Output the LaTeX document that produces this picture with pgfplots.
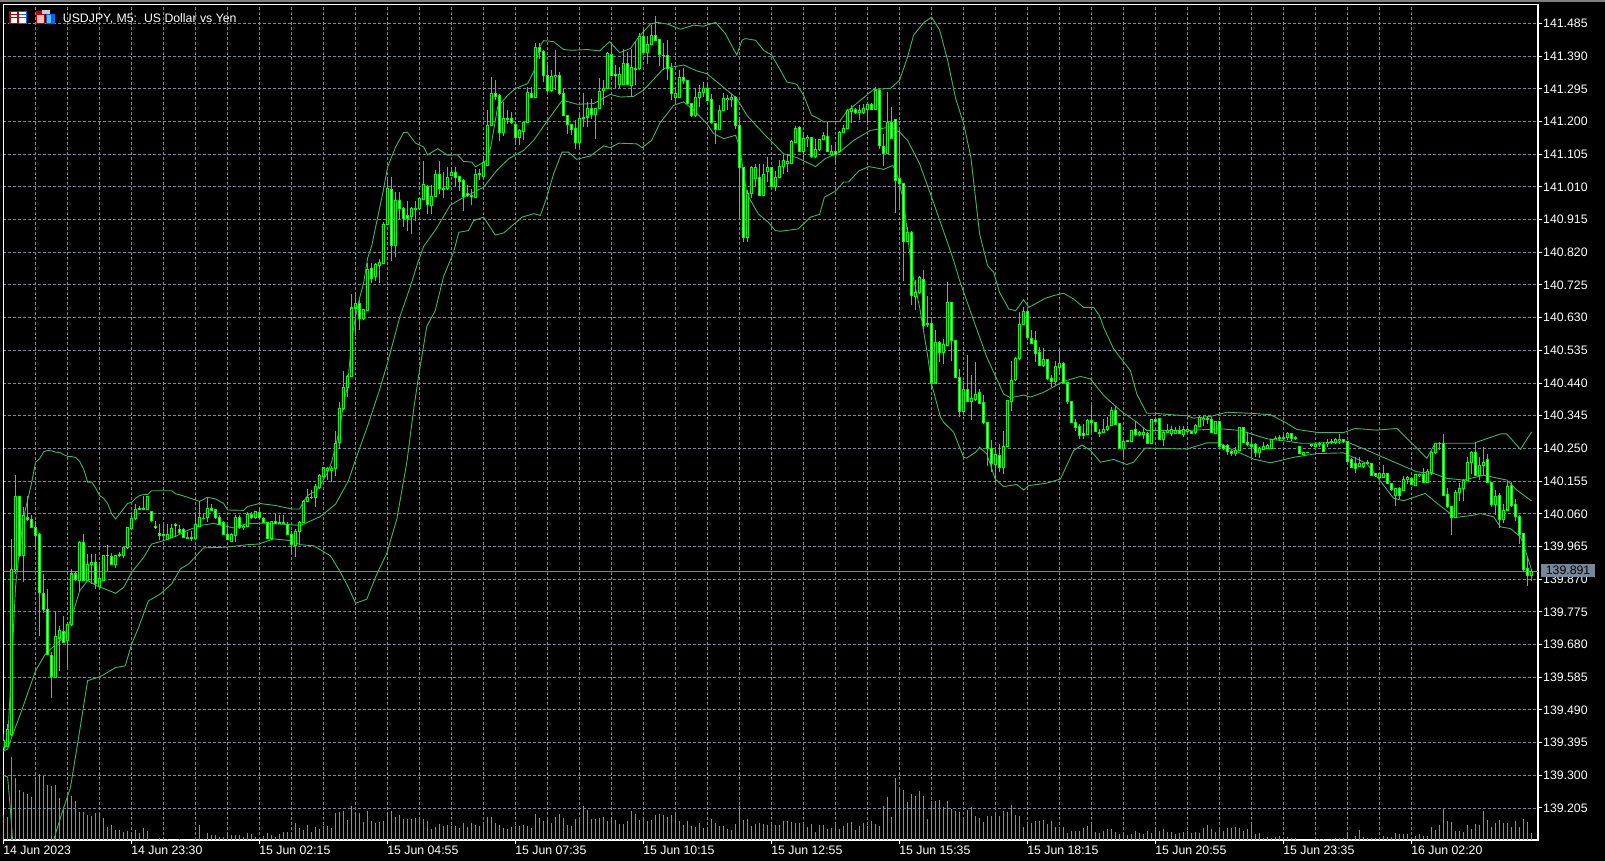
\documentclass[border=0pt]{standalone}
\usepackage{fontspec}
\setmainfont{Liberation Sans}
\usepackage{pgfplots}
\usepackage{pgfplotstable}
\pgfplotsset{compat=1.18, filter discard warning=false}
\definecolor{gridc}{HTML}{778899}
\definecolor{bbc}{HTML}{3CB371}
\definecolor{volc}{HTML}{32CD32}
\definecolor{candle}{HTML}{00FF00}
\newcommand{\lab}{\fontsize{12.3}{14}\selectfont}
\pgfplotstableread{
i o h l c
0 139.381 139.419 139.376 139.400
1 139.383 139.450 139.381 139.434
2 139.419 139.987 139.415 139.897
3 139.897 140.173 139.885 140.110
4 140.110 140.113 139.934 139.938
5 139.938 140.079 139.861 140.055
6 140.050 140.113 140.040 140.042
7 140.042 140.055 140.019 140.021
8 140.021 140.040 139.965 139.996
9 140.001 140.003 139.706 139.832
10 139.827 139.885 139.773 139.783
11 139.783 139.841 139.652 139.652
12 139.649 139.657 139.526 139.587
13 139.584 139.778 139.582 139.704
14 139.699 139.735 139.604 139.720
15 139.718 139.764 139.685 139.686
16 139.691 139.744 139.613 139.739
17 139.738 139.900 139.735 139.885
18 139.885 139.895 139.866 139.868
19 139.866 139.982 139.832 139.977
20 139.977 140.001 139.864 139.866
21 139.866 139.943 139.864 139.914
22 139.914 139.943 139.856 139.918
23 139.917 139.943 139.841 139.856
24 139.849 139.914 139.846 139.873
25 139.866 139.940 139.864 139.940
26 139.938 139.970 139.895 139.940
27 139.936 139.945 139.912 139.914
28 139.912 139.941 139.902 139.938
29 139.938 139.948 139.934 139.941
30 139.938 139.963 139.932 139.961
31 139.961 140.021 139.958 140.019
32 140.018 140.062 140.016 140.045
33 140.045 140.089 140.042 140.072
34 140.073 140.084 140.071 140.075
35 140.073 140.113 140.071 140.074
36 140.072 140.113 140.071 140.111
37 140.067 140.069 140.037 140.040
38 140.023 140.040 140.016 140.019
39 140.002 140.031 139.984 139.998
40 140.000 140.026 139.982 139.998
41 139.986 140.031 139.984 140.001
42 139.992 140.031 139.990 140.016
43 140.029 140.032 139.992 140.025
44 140.013 140.026 140.001 140.005
45 140.013 140.019 139.989 139.990
46 139.990 140.006 139.987 139.989
47 139.990 140.011 139.980 139.987
48 139.987 140.055 139.984 140.028
49 140.023 140.098 140.021 140.048
50 140.045 140.058 140.044 140.047
51 140.048 140.106 140.037 140.074
52 140.075 140.089 140.067 140.071
53 140.071 140.073 140.046 140.048
54 140.048 140.055 140.029 140.030
55 140.035 140.040 139.999 140.001
56 140.001 140.026 139.984 139.986
57 139.979 140.003 139.977 140.001
58 139.997 140.055 139.977 140.048
59 140.048 140.055 140.017 140.019
60 140.019 140.026 140.013 140.024
61 140.023 140.064 140.021 140.058
62 140.058 140.064 140.045 140.048
63 140.048 140.069 140.044 140.066
64 140.065 140.081 140.044 140.048
65 140.047 140.050 140.032 140.035
66 140.035 140.035 139.987 139.989
67 139.987 140.040 139.985 140.038
68 140.038 140.058 140.031 140.032
69 140.035 140.055 140.029 140.033
70 140.033 140.055 140.029 140.035
71 140.029 140.035 139.997 139.999
72 140.001 140.009 139.948 139.970
73 139.967 140.016 139.935 140.009
74 140.009 140.040 139.972 140.035
75 140.035 140.100 140.032 140.096
76 140.096 140.132 140.095 140.106
77 140.106 140.128 140.103 140.108
78 140.106 140.147 140.081 140.139
79 140.137 140.176 140.132 140.171
80 140.168 140.197 140.166 140.193
81 140.186 140.195 140.157 140.191
82 140.186 140.200 140.152 140.191
83 140.191 140.302 140.170 140.265
84 140.267 140.386 140.249 140.365
85 140.365 140.476 140.363 140.426
86 140.426 140.462 140.399 140.460
87 140.460 140.699 140.458 140.658
88 140.658 140.704 140.576 140.672
89 140.672 140.680 140.595 140.627
90 140.627 140.655 140.624 140.653
91 140.651 140.788 140.649 140.771
92 140.774 140.788 140.730 140.743
93 140.750 140.788 140.735 140.784
94 140.782 140.800 140.730 140.791
95 140.788 140.907 140.786 140.900
96 140.900 141.038 140.898 141.004
97 141.001 141.038 140.796 140.839
98 140.839 140.995 140.805 140.970
99 140.970 140.995 140.917 140.946
100 140.946 140.951 140.893 140.919
101 140.927 140.970 140.883 140.919
102 140.925 140.951 140.873 140.946
103 140.943 140.970 140.912 140.946
104 140.946 140.980 140.943 140.975
105 140.973 141.084 140.973 141.016
106 141.012 141.014 140.932 140.958
107 140.956 141.014 140.932 140.983
108 140.983 141.058 140.983 141.045
109 141.045 141.084 140.990 141.004
110 141.003 141.053 140.978 141.004
111 141.004 141.069 141.002 141.038
112 141.043 141.067 141.041 141.053
113 141.053 141.067 141.009 141.036
114 141.041 141.041 140.999 141.026
115 141.029 141.034 140.941 140.983
116 140.990 141.014 140.980 140.984
117 140.986 141.004 140.956 140.981
118 140.980 141.063 140.978 141.045
119 141.046 141.063 141.029 141.048
120 141.041 141.101 141.040 141.080
121 141.072 141.233 141.072 141.189
122 141.189 141.328 141.186 141.281
123 141.281 141.320 141.262 141.273
124 141.276 141.279 141.142 141.169
125 141.169 141.257 141.157 141.208
126 141.206 141.233 141.194 141.208
127 141.208 141.228 141.194 141.196
128 141.192 141.199 141.140 141.153
129 141.153 141.179 141.131 141.174
130 141.172 141.199 141.145 141.197
131 141.197 141.299 141.196 141.284
132 141.281 141.299 141.268 141.269
133 141.269 141.429 141.267 141.415
134 141.414 141.429 141.383 141.402
135 141.402 141.407 141.315 141.333
136 141.333 141.364 141.286 141.289
137 141.289 141.349 141.286 141.332
138 141.330 141.407 141.291 141.334
139 141.333 141.344 141.276 141.281
140 141.281 141.296 141.216 141.218
141 141.216 141.218 141.165 141.191
142 141.191 141.192 141.160 141.177
143 141.179 141.203 141.121 141.138
144 141.140 141.225 141.124 141.208
145 141.210 141.283 141.184 141.212
146 141.213 141.257 141.184 141.237
147 141.237 141.264 141.208 141.221
148 141.221 141.240 141.150 141.239
149 141.239 141.327 141.237 141.286
150 141.291 141.320 141.247 141.296
151 141.296 141.403 141.293 141.398
152 141.396 141.427 141.335 141.335
153 141.337 141.364 141.296 141.333
154 141.308 141.359 141.296 141.337
155 141.308 141.412 141.306 141.368
156 141.368 141.402 141.306 141.308
157 141.305 141.412 141.271 141.357
158 141.352 141.432 141.305 141.354
159 141.353 141.456 141.351 141.446
160 141.448 141.470 141.398 141.400
161 141.400 141.448 141.368 141.424
162 141.424 141.480 141.422 141.451
163 141.451 141.506 141.434 141.436
164 141.438 141.441 141.361 141.395
165 141.392 141.427 141.351 141.391
166 141.391 141.436 141.320 141.354
167 141.354 141.369 141.262 141.281
168 141.269 141.301 141.257 141.281
169 141.269 141.351 141.267 141.327
170 141.327 141.354 141.310 141.320
171 141.320 141.322 141.250 141.252
172 141.252 141.254 141.213 141.216
173 141.216 141.296 141.213 141.271
174 141.271 141.305 141.242 141.284
175 141.284 141.315 141.271 141.296
176 141.296 141.310 141.260 141.262
177 141.264 141.281 141.194 141.197
178 141.194 141.196 141.134 141.176
179 141.176 141.247 141.174 141.231
180 141.233 141.283 141.231 141.267
181 141.263 141.276 141.233 141.267
182 141.265 141.281 141.242 141.269
183 141.269 141.273 141.179 141.189
184 141.187 141.213 140.917 141.067
185 141.067 141.069 140.849 140.862
186 140.862 141.000 140.849 140.992
187 140.992 141.072 140.978 141.067
188 141.033 141.077 141.009 141.067
189 141.038 141.077 140.983 140.985
190 140.985 141.077 140.983 141.045
191 141.056 141.097 141.024 141.065
192 141.067 141.067 141.009 141.012
193 141.012 141.056 140.999 141.036
194 141.036 141.087 141.035 141.070
195 141.070 141.104 141.048 141.086
196 141.077 141.106 141.053 141.083
197 141.077 141.147 141.077 141.142
198 141.140 141.186 141.137 141.179
199 141.182 141.186 141.111 141.114
200 141.114 141.169 141.085 141.150
201 141.150 141.160 141.126 141.154
202 141.152 141.152 141.095 141.097
203 141.097 141.150 141.095 141.119
204 141.119 141.150 141.114 141.147
205 141.147 141.169 141.145 141.160
206 141.157 141.199 141.112 141.114
207 141.103 141.131 141.101 141.114
208 141.114 141.134 141.079 141.103
209 141.114 141.172 141.112 141.169
210 141.169 141.189 141.167 141.179
211 141.179 141.237 141.177 141.231
212 141.230 141.247 141.196 141.237
213 141.234 141.240 141.223 141.225
214 141.225 141.247 141.203 141.233
215 141.226 141.252 141.223 141.237
216 141.235 141.252 141.196 141.249
217 141.249 141.254 141.235 141.236
218 141.235 141.299 141.234 141.291
219 141.291 141.293 141.121 141.131
220 141.126 141.165 141.070 141.108
221 141.108 141.286 141.106 141.197
222 141.197 141.242 141.150 141.152
223 141.205 141.208 140.934 141.029
224 141.033 141.174 140.951 141.019
225 141.019 141.021 140.737 140.851
226 140.851 140.893 140.849 140.878
227 140.878 140.881 140.667 140.694
228 140.691 140.738 140.651 140.704
229 140.702 140.752 140.700 140.748
230 140.740 140.767 140.597 140.607
231 140.610 140.694 140.602 140.612
232 140.612 140.622 140.423 140.440
233 140.440 140.594 140.437 140.557
234 140.557 140.563 140.500 140.530
235 140.530 140.568 140.496 140.552
236 140.549 140.733 140.547 140.673
237 140.673 140.675 140.503 140.563
238 140.563 140.565 140.455 140.457
239 140.457 140.481 140.341 140.358
240 140.358 140.447 140.355 140.420
241 140.420 140.520 140.385 140.387
242 140.387 140.462 140.333 140.394
243 140.391 140.500 140.389 140.408
244 140.411 140.423 140.379 140.381
245 140.382 140.406 140.321 140.324
246 140.326 140.328 140.200 140.250
247 140.250 140.275 140.181 140.205
248 140.203 140.249 140.152 140.231
249 140.229 140.263 140.181 140.195
250 140.195 140.302 140.176 140.256
251 140.256 140.391 140.253 140.389
252 140.386 140.505 140.360 140.447
253 140.449 140.515 140.447 140.510
254 140.510 140.646 140.508 140.610
255 140.610 140.660 140.608 140.648
256 140.648 140.651 140.568 140.571
257 140.568 140.595 140.552 140.554
258 140.563 140.592 140.500 140.525
259 140.528 140.546 140.488 140.491
260 140.491 140.542 140.486 140.508
261 140.508 140.510 140.449 140.452
262 140.452 140.462 140.428 140.445
263 140.445 140.505 140.433 140.488
264 140.484 140.534 140.462 140.496
265 140.498 140.500 140.437 140.440
266 140.440 140.442 140.379 140.387
267 140.387 140.389 140.323 140.326
268 140.326 140.336 140.302 140.311
269 140.313 140.321 140.276 140.288
270 140.292 140.321 140.278 140.288
271 140.290 140.336 140.288 140.331
272 140.331 140.377 140.297 140.325
273 140.324 140.326 140.297 140.299
274 140.295 140.307 140.284 140.292
275 140.297 140.336 140.295 140.305
276 140.305 140.340 140.302 140.314
277 140.316 140.370 140.314 140.360
278 140.360 140.374 140.317 140.319
279 140.321 140.323 140.248 140.250
280 140.249 140.273 140.224 140.271
281 140.271 140.275 140.270 140.273
282 140.271 140.304 140.269 140.302
283 140.304 140.331 140.287 140.289
284 140.289 140.302 140.287 140.296
285 140.291 140.309 140.278 140.297
286 140.292 140.297 140.263 140.265
287 140.265 140.335 140.263 140.333
288 140.335 140.337 140.326 140.328
289 140.336 140.338 140.274 140.276
290 140.276 140.302 140.258 140.297
291 140.296 140.321 140.294 140.302
292 140.292 140.316 140.287 140.305
293 140.294 140.311 140.292 140.302
294 140.302 140.316 140.292 140.294
295 140.289 140.316 140.282 140.304
296 140.298 140.316 140.296 140.304
297 140.298 140.302 140.292 140.294
298 140.295 140.321 140.292 140.316
299 140.314 140.345 140.311 140.339
300 140.333 140.345 140.316 140.337
301 140.336 140.345 140.321 140.333
302 140.333 140.341 140.294 140.297
303 140.294 140.331 140.292 140.327
304 140.327 140.331 140.253 140.256
305 140.257 140.263 140.244 140.251
306 140.257 140.263 140.231 140.240
307 140.240 140.244 140.229 140.236
308 140.236 140.253 140.229 140.243
309 140.244 140.313 140.242 140.311
310 140.311 140.313 140.266 140.268
311 140.268 140.297 140.258 140.260
312 140.260 140.282 140.224 140.256
313 140.260 140.265 140.224 140.239
314 140.239 140.253 140.222 140.249
315 140.246 140.268 140.244 140.255
316 140.249 140.263 140.248 140.257
317 140.249 140.278 140.248 140.276
318 140.276 140.287 140.273 140.280
319 140.279 140.290 140.271 140.281
320 140.280 140.292 140.275 140.283
321 140.281 140.297 140.273 140.292
322 140.292 140.294 140.271 140.280
323 140.280 140.287 140.273 140.281
324 140.256 140.258 140.234 140.236
325 140.232 140.238 140.231 140.237
326 140.238 140.238 140.238 140.238
327 140.259 140.263 140.255 140.260
328 140.255 140.266 140.252 140.262
329 140.262 140.269 140.255 140.265
330 140.262 140.269 140.240 140.242
331 140.263 140.276 140.255 140.267
332 140.267 140.276 140.264 140.269
333 140.267 140.279 140.264 140.277
334 140.272 140.292 140.264 140.276
335 140.275 140.277 140.267 140.270
336 140.269 140.271 140.211 140.213
337 140.218 140.221 140.192 140.194
338 140.206 140.224 140.179 140.192
339 140.197 140.224 140.195 140.206
340 140.196 140.209 140.192 140.206
341 140.206 140.216 140.203 140.208
342 140.206 140.208 140.170 140.172
343 140.177 140.179 140.168 140.171
344 140.166 140.179 140.164 140.177
345 140.166 140.202 140.164 140.177
346 140.177 140.179 140.146 140.148
347 140.148 140.150 140.127 140.131
348 140.114 140.136 140.082 140.134
349 140.134 140.137 140.102 140.114
350 140.129 140.170 140.127 140.161
351 140.161 140.170 140.146 140.165
352 140.162 140.166 140.144 140.146
353 140.141 140.175 140.140 140.173
354 140.170 140.177 140.168 140.175
355 140.173 140.192 140.148 140.150
356 140.152 140.189 140.150 140.183
357 140.181 140.243 140.172 140.238
358 140.238 140.266 140.235 140.265
359 140.263 140.269 140.245 140.265
360 140.265 140.292 140.111 140.114
361 140.116 140.134 140.078 140.080
362 140.080 140.082 139.998 140.049
363 140.049 140.129 140.047 140.122
364 140.121 140.148 140.097 140.134
365 140.134 140.160 140.097 140.158
366 140.158 140.226 140.156 140.209
367 140.209 140.241 140.175 140.239
368 140.238 140.267 140.170 140.172
369 140.172 140.226 140.158 140.200
370 140.200 140.253 140.172 140.209
371 140.218 140.234 140.148 140.151
372 140.151 140.153 140.080 140.088
373 140.088 140.129 140.056 140.110
374 140.114 140.119 140.020 140.044
375 140.042 140.088 140.034 140.069
376 140.071 140.155 140.069 140.139
377 140.141 140.151 140.081 140.083
378 140.087 140.103 140.038 140.053
379 140.053 140.056 139.972 139.999
380 140.003 140.005 139.891 139.899
381 139.901 139.935 139.851 139.880
382 139.880 139.899 139.865 139.891
}\candles
% one long path per layer, read row by row from the table
\def\wickpts{}\def\bodypts{}\def\bearpts{}\def\bullpts{}
\pgfplotsforeachungrouped \r in {0,...,382}{%
  \pgfplotstablegetelem{\r}{o}\of\candles\let\cO\pgfplotsretval
  \pgfplotstablegetelem{\r}{h}\of\candles\let\cH\pgfplotsretval
  \pgfplotstablegetelem{\r}{l}\of\candles\let\cL\pgfplotsretval
  \pgfplotstablegetelem{\r}{c}\of\candles\let\cC\pgfplotsretval
  \edef\wickpts{\wickpts(\r,\cL)(\r,\cH)(\r,nan)}%
  \ifdim\cO pt<\cC pt\relax
    \let\cA\cO\let\cB\cC
  \else
    \let\cA\cC\let\cB\cO
  \fi
  \pgfmathsetmacro{\cLo}{\cA-0.0015}\pgfmathsetmacro{\cHi}{\cB+0.0015}%
  \edef\bodypts{\bodypts(\r,\cLo)(\r,\cHi)(\r,nan)}%
  \pgfmathsetmacro{\cIn}{\cA+0.0015}\pgfmathsetmacro{\cIx}{\cB-0.0015}%
  \ifdim\cIn pt<\cIx pt\relax
    \ifdim\cO pt<\cC pt\relax
      \edef\bullpts{\bullpts(\r,\cIn)(\r,\cIx)(\r,nan)}%
    \else
      \edef\bearpts{\bearpts(\r,\cIn)(\r,\cIx)(\r,nan)}%
    \fi
  \fi
}
\pgfplotsset{
  wickplot/.style={candle, line width=1pt, mark=none, unbounded coords=jump},
  bodyplot/.style={candle, line width=3.5pt, mark=none, unbounded coords=jump},
  bearplot/.style={white, line width=1.5pt, mark=none, unbounded coords=jump},
  bullplot/.style={black, line width=1.5pt, mark=none, unbounded coords=jump},
}
\begin{document}
\begin{tikzpicture}[x=1pt,y=1pt]
\path[use as bounding box] (0,0) rectangle (1605,861);
\fill[black] (0,0) rectangle (1605,861);
\fill[gray] (0,859) rectangle (1605,861);
% grid, ticks and labels
\begin{axis}[
  at={(3.3pt,21pt)}, anchor=south west, scale only axis, width=1534.7pt, height=835.5pt,
  xmin=-0.08, xmax=383.6, ymin=139.112, ymax=141.540,
  axis line style={white, line width=1.3pt},
  xtick={0,32,64,96,128,160,192,224,256,288,320,352},
  xticklabels={14 Jun 2023,14 Jun 23:30,15 Jun 02:15,15 Jun 04:55,15 Jun 07:35,15 Jun 10:15,15 Jun 12:55,15 Jun 15:35,15 Jun 18:15,15 Jun 20:55,15 Jun 23:35,16 Jun 02:20},
  ytick={139.205,139.300,139.395,139.490,139.585,139.680,139.775,139.870,139.965,140.060,140.155,140.250,140.345,140.440,140.535,140.630,140.725,140.820,140.915,141.010,141.105,141.200,141.295,141.390,141.485},
  yticklabels={139.205,139.300,139.395,139.490,139.585,139.680,139.775,139.870,139.965,140.060,140.155,140.250,140.345,140.440,140.535,140.630,140.725,140.820,140.915,141.010,141.105,141.200,141.295,141.390,141.485},
  minor x tick num=3, minor tick length=0pt,
  xmajorgrids, xminorgrids, ymajorgrids,
  grid style={gridc, dash pattern=on 3pt off 2pt, line width=0.9pt},
  minor grid style={gridc, dash pattern=on 3pt off 2pt, line width=0.9pt},
  tick align=outside, major tick length=4pt,
  major tick style={white, line width=1pt},
  xtick pos=bottom, ytick pos=right, yticklabel pos=right,
  xticklabel style={white, font=\lab, anchor=north west, inner sep=0pt, yshift=-1.5pt, xshift=-0.5pt},
  yticklabel style={white, font=\lab, anchor=west, inner sep=0pt, xshift=1pt},
]
\end{axis}
% tick volume
\begin{axis}[
  at={(3.3pt,21pt)}, anchor=south west, scale only axis, width=1534.7pt, height=835.5pt,
  xmin=-0.08, xmax=383.6, ymin=0, ymax=835.5, hide axis,
]
\addplot[ycomb, volc, line width=1pt, mark=none] coordinates {
(0,25)(1,23)(2,83)(3,62)(4,50)(5,48)(6,46)(7,43)(8,62)(9,66)(10,64)(11,55)(12,54)(13,55)(14,42)(15,33)(16,43)(17,44)(18,39)(19,28)
(20,28)(21,25)(22,24)(23,27)(24,27)(25,22)(26,13)(27,15)(28,10)(29,10)(30,8)(31,9)(32,8)(33,10)(34,7)(35,12)(36,9)(37,0)(38,0)(39,2)
(40,1)(41,1)(42,0)(43,0)(44,1)(45,0)(46,0)(47,0)(48,1)(49,15)(50,1)(51,7)(52,5)(53,5)(54,3)(55,3)(56,8)(57,5)(58,5)(59,5)
(60,3)(61,7)(62,6)(63,3)(64,1)(65,4)(66,7)(67,5)(68,3)(69,6)(70,8)(71,8)(72,8)(73,17)(74,12)(75,10)(76,15)(77,8)(78,13)(79,11)
(80,14)(81,14)(82,12)(83,27)(84,28)(85,29)(86,20)(87,34)(88,27)(89,27)(90,18)(91,29)(92,19)(93,17)(94,18)(95,19)(96,27)(97,29)(98,23)(99,25)
(100,21)(101,21)(102,21)(103,22)(104,22)(105,21)(106,19)(107,11)(108,13)(109,16)(110,14)(111,15)(112,14)(113,14)(114,12)(115,17)(116,13)(117,17)(118,15)(119,14)
(120,15)(121,23)(122,23)(123,17)(124,15)(125,12)(126,11)(127,13)(128,14)(129,14)(130,15)(131,14)(132,12)(133,26)(134,22)(135,19)(136,20)(137,17)(138,23)(139,26)
(140,22)(141,15)(142,14)(143,21)(144,20)(145,34)(146,30)(147,21)(148,21)(149,22)(150,23)(151,19)(152,20)(153,20)(154,16)(155,16)(156,19)(157,29)(158,26)(159,20)
(160,20)(161,19)(162,20)(163,25)(164,26)(165,25)(166,23)(167,25)(168,26)(169,19)(170,15)(171,19)(172,14)(173,13)(174,17)(175,12)(176,13)(177,21)(178,17)(179,14)
(180,14)(181,11)(182,10)(183,16)(184,34)(185,20)(186,21)(187,14)(188,16)(189,17)(190,16)(191,15)(192,16)(193,15)(194,15)(195,19)(196,19)(197,18)(198,17)(199,17)
(200,16)(201,13)(202,16)(203,8)(204,15)(205,15)(206,11)(207,12)(208,18)(209,11)(210,14)(211,17)(212,18)(213,10)(214,14)(215,17)(216,14)(217,19)(218,16)(219,14)
(220,34)(221,43)(222,23)(223,62)(224,52)(225,50)(226,38)(227,46)(228,44)(229,49)(230,44)(231,21)(232,39)(233,39)(234,40)(235,33)(236,39)(237,31)(238,29)(239,28)
(240,20)(241,30)(242,33)(243,24)(244,22)(245,18)(246,24)(247,24)(248,26)(249,24)(250,29)(251,28)(252,35)(253,25)(254,24)(255,13)(256,16)(257,17)(258,19)(259,19)
(260,20)(261,16)(262,19)(263,13)(264,10)(265,13)(266,7)(267,9)(268,9)(269,9)(270,12)(271,14)(272,15)(273,8)(274,7)(275,9)(276,11)(277,11)(278,8)(279,6)
(280,8)(281,5)(282,6)(283,9)(284,7)(285,6)(286,9)(287,7)(288,10)(289,9)(290,11)(291,8)(292,8)(293,6)(294,7)(295,8)(296,9)(297,7)(298,8)(299,7)
(300,12)(301,15)(302,11)(303,8)(304,10)(305,9)(306,12)(307,12)(308,13)(309,12)(310,9)(311,11)(312,15)(313,6)(314,7)(315,2)(316,3)(317,2)(318,3)(319,4)
(320,2)(321,3)(322,2)(323,2)(324,0)(325,0)(326,0)(327,0)(328,0.5)(329,1)(330,1)(331,0)(332,1)(333,2)(334,2)(335,2)(336,8)(337,1)(338,4)(339,10)
(340,3)(341,2)(342,2)(343,2)(344,2)(345,4)(346,3)(347,3)(348,7)(349,6)(350,6)(351,6)(352,3)(353,4)(354,6)(355,4)(356,4)(357,13)(358,10)(359,15)
(360,31)(361,19)(362,18)(363,9)(364,9)(365,8)(366,15)(367,11)(368,16)(369,15)(370,29)(371,20)(372,13)(373,17)(374,20)(375,17)(376,17)(377,13)(378,19)(379,13)
(380,21)(381,18)(382,7)
};
\end{axis}
% prices
\begin{axis}[
  at={(3.3pt,21pt)}, anchor=south west, scale only axis, width=1534.7pt, height=835.5pt,
  xmin=-0.08, xmax=383.6, ymin=139.112, ymax=141.540, hide axis,
]
% upper band
\addplot[bbc, line width=0.9pt, mark=none] coordinates {
(0,139.37)(1,139.40)(2,139.62)(3,139.85)(4,139.96)(5,140.05)(6,140.10)(7,140.15)(8,140.21)(9,140.22)(10,140.24)(11,140.244)(12,140.243)(13,140.239)(14,140.238)(15,140.232)(16,140.227)(17,140.226)(18,140.224)(19,140.212)
(20,140.19)(21,140.152)(22,140.152)(23,140.135)(24,140.113)(25,140.105)(26,140.09)(27,140.06)(28,140.045)(29,140.06)(30,140.075)(31,140.09)(32,140.093)(33,140.105)(34,140.113)(35,140.116)(36,140.116)(37,140.127)(42,140.127)(43,140.118)
(44,140.115)(46,140.108)(49,140.096)(51,140.108)(53,140.103)(55,140.09)(56,140.071)(60,140.07)(61,140.081)(64,140.09)(68,140.084)(72,140.074)(74,140.074)(75,140.096)(76,140.113)(77,140.120)(78,140.125)(79,140.14)(80,140.16)(81,140.18)
(82,140.21)(84,140.305)(85,140.383)(86,140.431)(87,140.566)(88,140.634)(89,140.687)(90,140.730)(91,140.803)(92,140.837)(93,140.893)(95,141.004)(96,141.068)(98,141.126)(100,141.168)(101,141.168)(103,141.137)(105,141.126)(106,141.103)(108.5,141.121)
(111,141.102)(113.5,141.103)(115,141.084)(117,141.082)(118,141.068)(120.7,141.087)(121.8,141.126)(123.5,141.242)(126,141.276)(128,141.296)(131,141.310)(132.7,141.349)(134,141.417)(135,141.435)(137.5,141.432)(140,141.409)(142,141.407)(146,141.409)(149,141.405)(151.5,141.432)
(154,141.400)(156.7,141.412)(158.8,141.446)(161.7,141.483)(163.4,141.488)(166,141.483)(169.2,141.468)(172.5,141.480)(175,141.477)(178,141.488)(180.4,141.456)(183.3,141.393)(184.6,141.436)(185.4,141.441)(188,141.436)(190,141.407)(192,141.393)(194.2,141.349)(195.8,141.315)(198.3,141.308)
(200,141.276)(202,141.218)(203.3,141.211)(205,141.199)(209,141.200)(210.7,141.228)(217.5,141.293)(221.7,141.296)(224,141.320)(226,141.388)(227.5,141.451)(230,141.487)(232,141.503)(234,141.466)(236,141.378)(238,141.267)(240,141.194)(241.8,141.097)(244,140.873)(246,140.781)
(247.5,140.762)(249,140.703)(251.3,140.655)(253,140.650)(255,140.682)(256.3,140.660)(260.4,140.686)(262.5,140.694)(265,140.701)(267.5,140.684)(270,140.660)(272.5,140.660)(274,140.635)(275,140.602)(277.5,140.539)(281.7,140.476)(283.3,140.408)(285.8,140.352)(287.9,140.352)(291.7,140.348)
(295.8,140.345)(297.5,140.338)(301.7,140.343)(305.8,140.355)(311.7,140.352)(316.7,140.348)(320.8,140.323)(323.3,140.305)(328.7,140.296)(335,140.296)(337.9,140.308)(343.3,140.303)(348.3,140.308)(352.5,140.260)(355.8,140.221)(357.9,140.265)(360.8,140.265)(367.5,140.265)(374.2,140.292)(375.8,140.292)
(379.2,140.247)(382,140.298)
};
% middle band
\addplot[bbc, line width=0.9pt, mark=none] coordinates {
(0,139.371)(1,139.376)(2,139.41)(4.2,139.478)(8,139.604)(10.4,139.652)(15,139.701)(17,139.759)(19,139.836)(21,139.866)(23.3,139.851)(28,139.829)(30,139.846)(32,139.890)(35,139.933)(37,139.972)(40,139.982)(43.3,139.996)(45.8,140.011)(49.2,140.026)
(52.5,140.032)(57.5,140.019)(60.8,140.031)(65,140.033)(70.8,140.029)(74.2,140.026)(79.2,140.052)(83,140.088)(86.2,140.156)(88,140.218)(91,140.315)(94,140.421)(96,140.499)(99,140.630)(101.7,140.721)(103.5,140.788)(105,140.837)(108,140.885)(111.6,140.956)(115,140.980)
(120,141.009)(123.3,141.058)(126.3,141.092)(130,141.116)(132.5,141.145)(136.3,141.208)(139.7,141.262)(143.4,141.250)(147.5,141.252)(151.7,141.279)(154.2,141.271)(157.5,141.273)(160,141.291)(165,141.354)(170,141.364)(173.3,141.347)(175.8,141.339)(180,141.299)(183.3,141.267)(185.8,141.218)
(190,141.165)(195,141.106)(198.3,141.095)(203,141.069)(205.4,141.092)(209,141.111)(212.5,141.145)(216.7,141.174)(221.7,141.184)(224,141.169)(226,141.145)(229,141.077)(232,140.980)(235.8,140.854)(237.5,140.796)(239,140.738)(242.5,140.622)(245.8,140.515)(250,140.408)(251.7,140.397)
(255,140.405)(256.7,140.399)(260,140.413)(265,140.445)(269.2,140.459)(271.7,140.452)(275,140.404)(279.2,140.360)(283.3,140.326)(285.8,140.302)(295.8,140.302)(304.2,140.307)(309.2,140.302)(315.8,140.278)(320.8,140.271)(324.2,140.265)(327.5,140.265)(335.8,140.269)(340.8,140.245)(347.5,140.211)
(353.3,140.182)(357.5,140.177)(360.8,140.163)(365,140.158)(370,140.172)(375.8,140.158)(378.3,140.129)(382,140.097)
};
% lower band
\addplot[bbc, line width=0.9pt, mark=none] coordinates {
(0,139.30)(1,139.295)(1.7,139.20)(2.3,139.10)(3,139.0)(5,138.95)(8,139.0)(11,139.06)(12.5,139.112)(14.6,139.191)(16.7,139.264)(18.75,139.410)(21,139.575)(24.2,139.587)(28,139.613)(30.4,139.618)(32,139.681)(33.75,139.730)(36.2,139.807)(39.2,139.827)
(42,139.856)(44.2,139.900)(46.25,139.914)(50,139.961)(55.8,139.963)(60.8,139.970)(63.75,139.972)(67.5,139.987)(71.7,139.982)(74.2,139.970)(77.5,139.967)(81.7,139.938)(84.2,139.890)(86.2,139.846)(88,139.800)(90.8,139.812)(93.3,139.885)(95.8,139.945)(98.3,140.045)(100.8,140.209)
(102.5,140.363)(103.75,140.460)(105.8,140.605)(107.9,140.650)(110,140.750)(112.5,140.820)(113.8,140.878)(116.2,140.883)(117.5,140.912)(120,140.922)(122.9,140.870)(125,140.876)(129.6,140.922)(132.5,140.932)(134.2,140.927)(135.8,140.980)(137.5,141.048)(139.6,141.111)(141.2,141.111)(143.3,141.090)
(146.7,141.100)(150,141.129)(151.7,141.124)(153.8,141.137)(158.3,141.135)(159.6,141.124)(162,141.145)(164,141.194)(167.5,141.247)(170,141.257)(172.5,141.233)(175.8,141.194)(177.5,141.165)(180,141.150)(183,141.160)(184,141.126)(185.8,140.990)(188.7,140.931)(191.2,140.907)(192.9,140.883)
(194.2,140.881)(198.7,140.888)(201.7,140.922)(204,140.930)(205.2,140.980)(208,140.998)(210,141.024)(211.2,141.024)(213.8,141.056)(216.3,141.069)(220,141.061)(222.3,141.072)(223.3,141.048)(225,140.97)(227,140.77)(229,140.66)(231,140.52)(232,140.437)(234.2,140.341)(235,140.326)
(237.5,140.297)(240,140.224)(240.8,140.222)(243,140.239)(244,140.253)(245.8,140.234)(247.9,140.161)(250,140.139)(253.3,140.145)(255,140.129)(256.3,140.142)(260.8,140.149)(264.2,140.161)(267.5,140.244)(269.6,140.260)(271.7,140.244)(274.2,140.210)(277.5,140.218)(280.8,140.203)(282.5,140.210)
(285.4,140.251)(295.8,140.248)(300.8,140.266)(303.7,140.266)(306.7,140.249)(312.5,140.219)(316.7,140.208)(322.5,140.224)(328.3,140.235)(335,140.237)(340.8,140.206)(347.5,140.105)(350,140.098)(355.4,140.119)(357.9,140.095)(362.9,140.049)(367.5,140.056)(369.2,140.061)(372.5,140.051)(374.2,140.022)
(376.7,140.017)(379.2,139.993)(380,139.97)(382,139.896)
};
% current bid line
\addplot[gridc, line width=1pt, mark=none] coordinates {(-0.08,139.891)(383.6,139.891)};
% candles: wicks, body outlines, bear and bull interiors
\edef\temp{\noexpand\addplot[wickplot] coordinates {\wickpts};}\temp
\edef\temp{\noexpand\addplot[bodyplot] coordinates {\bodypts};}\temp
\edef\temp{\noexpand\addplot[bearplot] coordinates {\bearpts};}\temp
\edef\temp{\noexpand\addplot[bullplot] coordinates {\bullpts};}\temp
\end{axis}
% bid label
\node[anchor=west, fill=gridc, text=black, inner sep=0pt, minimum width=54.3pt, minimum height=13.3pt, font=\lab] at (1540.7,290.3) {139.891};
% header
\fill[red!75!black] (9.3,837) rectangle (18.5,850); \fill[white] (10.6,838.3) rectangle (17.2,848.7);
\fill[blue!60!cyan] (18.5,837) rectangle (27.3,850); \fill[white] (18.5,838.3) rectangle (26,848.7);
\fill[red!75!black] (10.6,842.5) rectangle (18.5,843.5); \fill[red!75!black] (10.6,846) rectangle (18.5,847);
\fill[blue!60!cyan] (18.5,842.5) rectangle (26,843.5); \fill[blue!60!cyan] (18.5,846) rectangle (26,847);
\fill[red!75!black] (36,837) rectangle (45,850); \fill[white!75!red] (37.3,838.3) rectangle (43.8,846);
\fill[blue!60!cyan] (45.5,837) rectangle (54.7,847); \fill[white!60!blue!60!cyan] (47,838.3) rectangle (50.5,845.7);
\fill[gray!40] (42,847) rectangle (50,850.5);
\node[anchor=west, inner sep=0pt, text=white, font=\lab] at (62.7,842.2) {USDJPY, M5:\ \ US Dollar vs Yen};
\end{tikzpicture}
\end{document}
